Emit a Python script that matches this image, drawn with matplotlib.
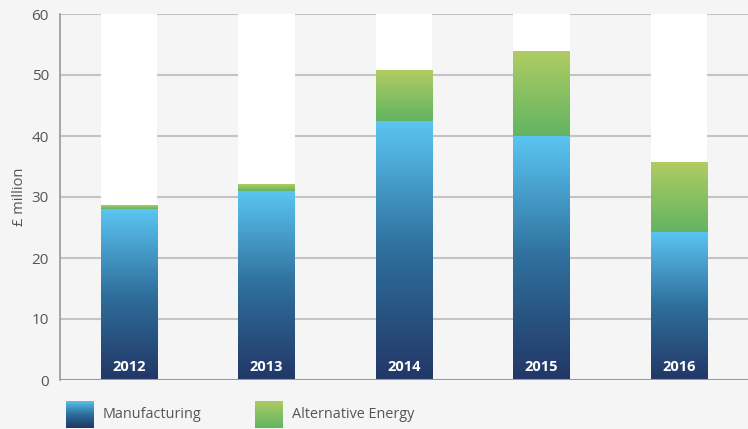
import numpy as np
import matplotlib.pyplot as plt
from matplotlib.colors import LinearSegmentedColormap

plt.rcParams['font.family'] = ['Open Sans', 'DejaVu Sans']

# Data
years = ["2012", "2013", "2014", "2015", "2016"]
manufacturing = [28.0, 31.0, 42.5, 40.0, 24.3]
alternative_energy = [0.5, 1.1, 8.3, 13.9, 11.4]
y_max = 60

bg = "#f5f5f5"
blue_cmap = LinearSegmentedColormap.from_list("blue", ["#223766", "#2f6f9c", "#5bc5f2"])
green_cmap = LinearSegmentedColormap.from_list("green", ["#62b463", "#b0cc62"])
grad = np.linspace(0, 1, 256).reshape(-1, 1)

fig = plt.figure(figsize=(7.48, 4.29), dpi=100, facecolor=bg)
ax = fig.add_axes([60 / 748, 49 / 429, 688 / 748, 366 / 429], facecolor=bg)

x = np.arange(len(years))
width = 0.41

# gridlines behind the white column backgrounds
for v in range(10, y_max + 1, 10):
    ax.axhline(v, color="#c4c4c4", lw=1.5, zorder=0)
ax.axhline(0, color="#999999", lw=1.5, zorder=5)

for i, yr in enumerate(years):
    x0, x1 = x[i] - width / 2, x[i] + width / 2
    ax.bar(x[i], y_max, width=width, color="white", zorder=1)
    m = manufacturing[i]
    a = alternative_energy[i]
    ax.imshow(grad, cmap=blue_cmap, origin="lower", aspect="auto",
              extent=(x0, x1, 0, m), zorder=2)
    ax.imshow(grad, cmap=green_cmap, origin="lower", aspect="auto",
              extent=(x0, x1, m, m + a), zorder=2)
    ax.text(x[i], 2.2, yr, color="white", ha="center", va="center",
            fontsize=10.5, fontweight="bold", zorder=3)

ax.set_xlim(-0.5, len(years) - 0.5)
ax.set_ylim(0, y_max)
ax.set_yticks(range(0, y_max + 1, 10))
ax.set_xticks([])
ax.tick_params(axis="y", length=0, labelsize=11, labelcolor="#555555", pad=8)
ax.set_ylabel("£ million", fontsize=10.5, color="#555555", labelpad=3)
for s in ["top", "right", "bottom"]:
    ax.spines[s].set_visible(False)
ax.spines["left"].set_color("#999999")
ax.spines["left"].set_linewidth(1.2)

# Legend with gradient swatches
leg_items = [("Manufacturing", blue_cmap, 66), ("Alternative Energy", green_cmap, 255)]
for label, cmap, px in leg_items:
    lax = fig.add_axes([px / 748, 1 / 429, 28 / 748, 27 / 429])
    lax.imshow(grad, cmap=cmap, origin="lower", aspect="auto")
    lax.axis("off")
    fig.text((px + 37) / 748, 14 / 429, label, fontsize=10.4, color="#555555",
             ha="left", va="center")

fig.savefig("out.png", dpi=100, facecolor=bg)
